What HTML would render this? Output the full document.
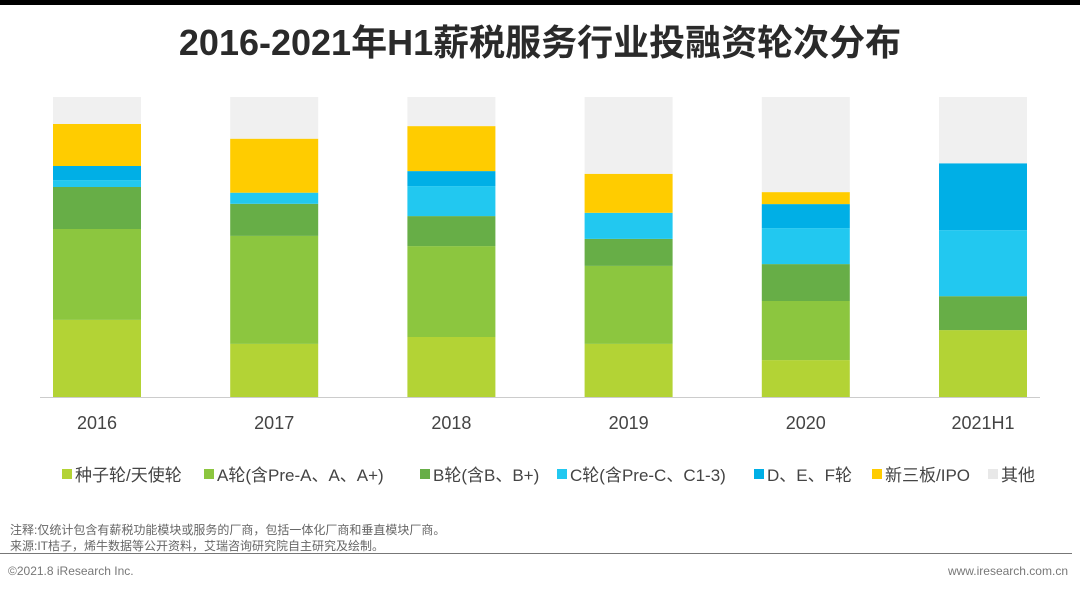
<!DOCTYPE html>
<html><head><meta charset="utf-8"><style>
body{margin:0;width:1080px;height:592px;background:#fff;overflow:hidden;font-family:"Liberation Sans","Noto Sans CJK SC",sans-serif;position:relative}
.t{position:absolute}
</style></head><body>
<div class="t" style="left:0;top:0;width:1080px;height:5px;background:#000"></div>
<div class="t" style="left:0;width:1080px;top:14px;text-align:center;font-size:36px;font-weight:bold;color:#2a2a2a">2016-2021年H1薪税服务行业投融资轮次分布</div>
<svg id="c" class="t" style="left:0;top:0" width="1080" height="592"></svg>
<div class="t" style="left:10px;top:522px;font-size:12px;color:#666;line-height:16px">注释:仅统计包含有薪税功能模块或服务的厂商，包括一体化厂商和垂直模块厂商。<br>来源:IT桔子，烯牛数据等公开资料，艾瑞咨询研究院自主研究及绘制。</div>
<div class="t" style="left:0;top:553px;width:1072px;height:1px;background:#777"></div>
<div class="t" style="left:8px;top:564px;font-size:12px;color:#777">©2021.8 iResearch Inc.</div>
<div class="t" style="right:12px;top:564px;font-size:12px;color:#777">www.iresearch.com.cn</div>
<script>
const categories=["2016","2017","2018","2019","2020","2021H1"];
const seriesNames=["种子轮/天使轮","A轮(含Pre-A、A、A+)","B轮(含B、B+)","C轮(含Pre-C、C1-3)","D、E、F轮","新三板/IPO","其他"];
const seed=[25.7,17.7,20,17.7,12.3,22.3];
const roundA=[30.3,36,30.3,26,19.7,0];
const roundB=[14,10.7,10,9,12.3,11.3];
const roundC=[2.3,3.7,10,8.7,12,22];
const roundD=[4.7,0,5,0,8,22.3];
const ipo=[14,18,15,13,4,0];
const other=[9,13.9,9.7,25.6,31.7,22.1];
const colors=["#b3d335","#8cc63f","#67ae47","#22c8f0","#00afe6","#ffcc00","#f0f0f0"];
const series=[seed,roundA,roundB,roundC,roundD,ipo,other];
const NS="http://www.w3.org/2000/svg",svg=document.getElementById('c');
const y0=397,h=300,x0=53,step=177.2,bw=88;
const y=v=>y0-v/100*h;
categories.forEach((cat,i)=>{
  let acc=0;
  series.forEach((s,k)=>{
    const v=s[i];if(v<=0)return;
    const r=document.createElementNS(NS,'rect');
    r.setAttribute('x',x0+i*step);r.setAttribute('y',y(acc+v));
    r.setAttribute('width',bw);r.setAttribute('height',v/100*h);
    r.setAttribute('fill',colors[k]);
    
    
    svg.appendChild(r);acc+=v;
  });
  const t=document.createElementNS(NS,'text');
  t.setAttribute('x',x0+i*step+bw/2);t.setAttribute('y',429);
  t.setAttribute('text-anchor','middle');t.setAttribute('font-size','18');t.setAttribute('fill','#444');
  t.textContent=cat;
  
  
  svg.appendChild(t);
});
const ax=document.createElementNS(NS,'line');
ax.setAttribute('x1',40);ax.setAttribute('x2',1040);ax.setAttribute('y1',397.5);ax.setAttribute('y2',397.5);ax.setAttribute('stroke','#ccc');


svg.appendChild(ax);
const lx=[62,204,420,557,754,872,988];
seriesNames.forEach((n,k)=>{
  const r=document.createElementNS(NS,'rect');
  r.setAttribute('x',lx[k]);r.setAttribute('y',469);r.setAttribute('width',10);r.setAttribute('height',10);r.setAttribute('fill',colors[k]==="#f0f0f0"?"#e8e8e8":colors[k]);
  
  
  svg.appendChild(r);
  const t=document.createElementNS(NS,'text');
  t.setAttribute('x',lx[k]+13);t.setAttribute('y',481);t.setAttribute('font-size','17');t.setAttribute('fill','#444');
  t.textContent=n;
  
  
  svg.appendChild(t);
});
</script>
</body></html>
